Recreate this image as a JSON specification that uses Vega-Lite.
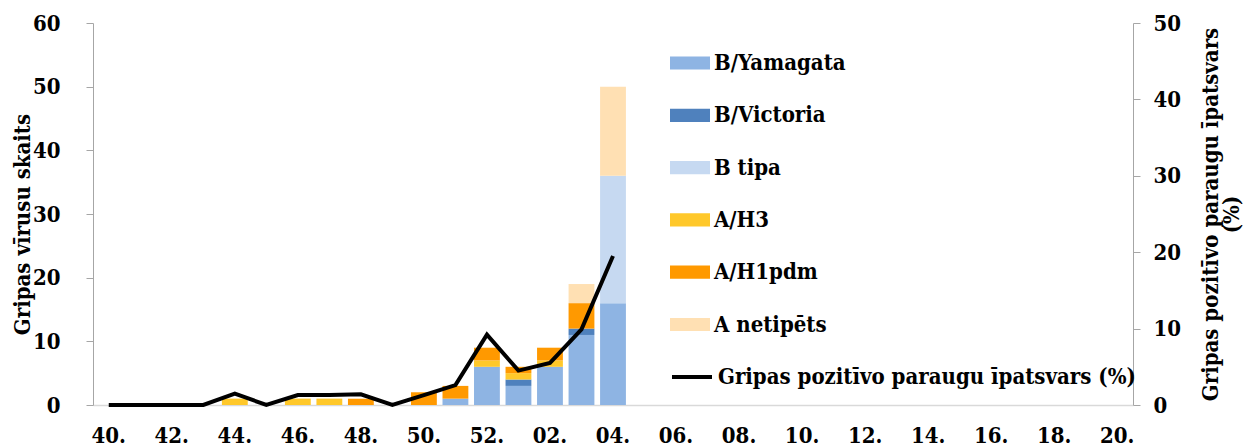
{
  "$schema": "https://vega.github.io/schema/vega-lite/v6.json",
  "autosize": {"type": "none"},
  "width": 1040,
  "height": 382,
  "padding": {"left": 93, "top": 23, "right": 112, "bottom": 43},
  "background": "white",
  "config": {
    "view": {"stroke": null},
    "font": "DejaVu Serif Condensed, DejaVu Serif",
    "axis": {"labelFont": "DejaVu Serif Condensed, DejaVu Serif", "titleFont": "DejaVu Serif Condensed, DejaVu Serif", "labelFontWeight": "bold", "titleFontWeight": "bold", "labelColor": "#000", "titleColor": "#000", "grid": false},
    "legend": {"labelFont": "DejaVu Serif Condensed, DejaVu Serif", "labelFontWeight": "bold", "labelColor": "#000", "labelLimit": 600}
  },
  "datasets": {
    "bars": [
      {"week": "44.", "type": "A/H3", "count": 1, "ord": 4},
      {"week": "46.", "type": "A/H3", "count": 1, "ord": 4},
      {"week": "47.", "type": "A/H3", "count": 1, "ord": 4},
      {"week": "48.", "type": "A/H1pdm", "count": 1, "ord": 5},
      {"week": "50.", "type": "A/H1pdm", "count": 2, "ord": 5},
      {"week": "51.", "type": "B/Yamagata", "count": 1, "ord": 1},
      {"week": "51.", "type": "A/H1pdm", "count": 2, "ord": 5},
      {"week": "52.", "type": "B/Yamagata", "count": 6, "ord": 1},
      {"week": "52.", "type": "A/H3", "count": 1, "ord": 4},
      {"week": "52.", "type": "A/H1pdm", "count": 2, "ord": 5},
      {"week": "01.", "type": "B/Yamagata", "count": 3, "ord": 1},
      {"week": "01.", "type": "B/Victoria", "count": 1, "ord": 2},
      {"week": "01.", "type": "A/H3", "count": 1, "ord": 4},
      {"week": "01.", "type": "A/H1pdm", "count": 1, "ord": 5},
      {"week": "02.", "type": "B/Yamagata", "count": 6, "ord": 1},
      {"week": "02.", "type": "A/H3", "count": 1, "ord": 4},
      {"week": "02.", "type": "A/H1pdm", "count": 2, "ord": 5},
      {"week": "03.", "type": "B/Yamagata", "count": 11, "ord": 1},
      {"week": "03.", "type": "B/Victoria", "count": 1, "ord": 2},
      {"week": "03.", "type": "A/H1pdm", "count": 4, "ord": 5},
      {"week": "03.", "type": "A netipēts", "count": 3, "ord": 6},
      {"week": "04.", "type": "B/Yamagata", "count": 16, "ord": 1},
      {"week": "04.", "type": "B tipa", "count": 20, "ord": 3},
      {"week": "04.", "type": "A netipēts", "count": 14, "ord": 6}
    ],
    "line": [
      {"week": "40.", "pct": 0},
      {"week": "41.", "pct": 0},
      {"week": "42.", "pct": 0},
      {"week": "43.", "pct": 0},
      {"week": "44.", "pct": 1.5},
      {"week": "45.", "pct": 0},
      {"week": "46.", "pct": 1.3},
      {"week": "47.", "pct": 1.3},
      {"week": "48.", "pct": 1.4},
      {"week": "49.", "pct": 0},
      {"week": "50.", "pct": 1.3},
      {"week": "51.", "pct": 2.6},
      {"week": "52.", "pct": 9.2},
      {"week": "01.", "pct": 4.5},
      {"week": "02.", "pct": 5.5},
      {"week": "03.", "pct": 9.9},
      {"week": "04.", "pct": 19.5}
    ]
  },
  "encoding": {
    "x": {
      "field": "week",
      "type": "ordinal",
      "scale": {
        "domain": ["40.","41.","42.","43.","44.","45.","46.","47.","48.","49.","50.","51.","52.","01.","02.","03.","04.","05.","06.","07.","08.","09.","10.","11.","12.","13.","14.","15.","16.","17.","18.","19.","20."],
        "paddingInner": 0.18,
        "paddingOuter": 0.09
      },
      "axis": {
        "title": null,
        "values": ["40.","42.","44.","46.","48.","50.","52.","02.","04.","06.","08.","10.","12.","14.","16.","18.","20."],
        "labelAngle": 0,
        "ticks": false,
        "domainColor": "#d9d9d9",
        "domainWidth": 1.5,
        "labelFontSize": 22,
        "labelBaseline": "alphabetic",
        "labelPadding": 37
      }
    }
  },
  "layer": [
    {
      "data": {"name": "bars"},
      "mark": {"type": "bar"},
      "encoding": {
        "y": {
          "field": "count",
          "type": "quantitative",
          "stack": "zero",
          "scale": {"domain": [0, 60]},
          "axis": {
            "title": "Gripas vīrusu skaits",
            "titleFontSize": 22,
            "titleBaseline": "middle",
            "titleX": -71,
            "titleY": 201,
            "values": [0, 10, 20, 30, 40, 50, 60],
            "labelFontSize": 22,
            "labelPadding": 26,
            "tickSize": 7,
            "tickColor": "#a6a6a6",
            "domainColor": "#a6a6a6"
          }
        },
        "color": {
          "field": "type",
          "type": "nominal",
          "scale": {
            "domain": ["B/Yamagata", "B/Victoria", "B tipa", "A/H3", "A/H1pdm", "A netipēts"],
            "range": ["#8EB4E3", "#4F81BD", "#C6D9F1", "#FFC82A", "#FF9900", "#FFE0B3"]
          },
          "legend": {
            "title": null,
            "orient": "none",
            "legendX": 577,
            "legendY": 20,
            "symbolType": "M-1,-0.33H1V0.33H-1Z",
            "symbolSize": 1600,
            "symbolStrokeWidth": 0,
            "labelFontSize": 22,
            "labelOffset": 4,
            "rowPadding": 21.3
          }
        },
        "order": {"field": "ord", "type": "quantitative"}
      }
    },
    {
      "data": {"name": "line"},
      "mark": {"type": "line", "strokeWidth": 4, "strokeJoin": "miter"},
      "encoding": {
        "y": {
          "field": "pct",
          "type": "quantitative",
          "scale": {"domain": [0, 50]},
          "axis": {
            "orient": "right",
            "title": ["Gripas pozitīvo paraugu īpatsvars", "(%)"],
            "titleFontSize": 22,
            "titleAngle": -90,
            "titleBaseline": "middle",
            "titleLineHeight": 21,
            "titleX": 77,
            "titleY": 191,
            "values": [0, 10, 20, 30, 40, 50],
            "labelFontSize": 22,
            "labelPadding": 13,
            "tickSize": 7,
            "tickColor": "#a6a6a6",
            "domainColor": "#a6a6a6"
          }
        },
        "stroke": {
          "datum": "Gripas pozitīvo paraugu īpatsvars (%)",
          "scale": {"range": ["#000000"]},
          "legend": {
            "title": null,
            "orient": "none",
            "legendX": 577,
            "legendY": 332,
            "symbolType": "stroke",
            "symbolSize": 1600,
            "symbolStrokeWidth": 4,
            "labelFontSize": 22,
            "labelOffset": 4
          }
        }
      }
    }
  ],
  "resolve": {"scale": {"y": "independent", "color": "independent"}}
}
